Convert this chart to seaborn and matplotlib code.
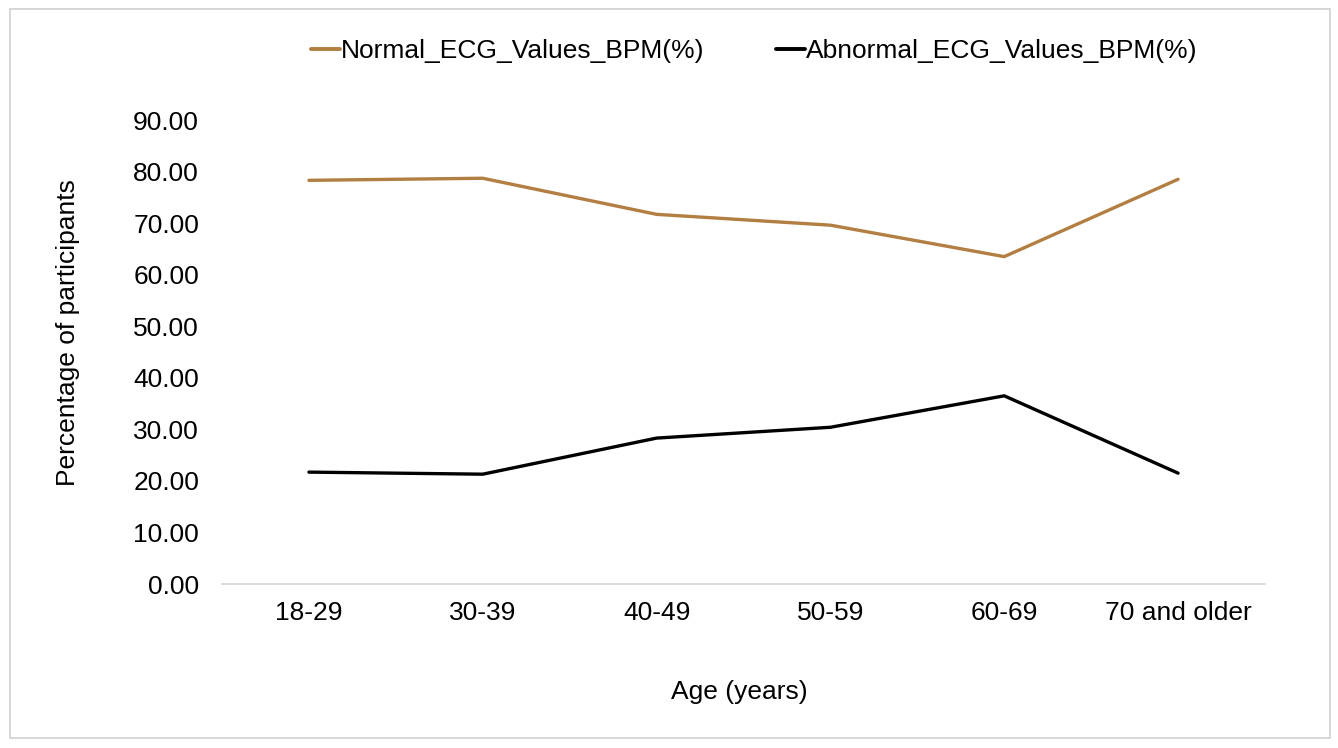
import matplotlib
matplotlib.use("Agg")
import matplotlib.pyplot as plt
import seaborn as sns
import pandas as pd
from matplotlib.ticker import FormatStrFormatter
from matplotlib.patches import Rectangle
from matplotlib.lines import Line2D

age_groups = ["18-29", "30-39", "40-49", "50-59", "60-69", "70 and older"]
normal_pct = [78.3, 78.7, 71.7, 69.6, 63.5, 78.5]
abnormal_pct = [21.7, 21.3, 28.3, 30.4, 36.5, 21.5]
series_names = ["Normal_ECG_Values_BPM(%)", "Abnormal_ECG_Values_BPM(%)"]
y_ticks = [0, 10, 20, 30, 40, 50, 60, 70, 80, 90]

df = pd.DataFrame({
    "Age": age_groups * 2,
    "Series": [series_names[0]] * len(age_groups) + [series_names[1]] * len(age_groups),
    "Value": normal_pct + abnormal_pct,
})
df["x"] = list(range(len(age_groups))) * 2

sns.set_theme(style="white")
plt.rcParams["font.family"] = ["Liberation Sans", "DejaVu Sans"]
plt.rcParams["text.color"] = "#000000"

FS = 19

fig = plt.figure(figsize=(13.38, 7.48), dpi=100)
ax = fig.add_axes([222 / 1338, 1 - 584 / 748, (1265 - 222) / 1338, (584 - 120) / 748])

palette = {series_names[0]: "#B27E41", series_names[1]: "#000000"}
sns.lineplot(data=df, x="x", y="Value", hue="Series", palette=palette, ax=ax,
             linewidth=2.4, legend=False, sort=False)

ax.set_xlim(-0.5, len(age_groups) - 0.5)
ax.set_ylim(0, 90)
ax.set_yticks(y_ticks)
ax.yaxis.set_major_formatter(FormatStrFormatter("%.2f"))
ax.set_xticks(range(len(age_groups)))
ax.set_xticklabels(age_groups)
ax.tick_params(axis="both", labelsize=FS, length=0, colors="#000000")
ax.tick_params(axis="y", pad=16.5)
ax.tick_params(axis="x", pad=12)
for s in ["top", "right", "left"]:
    ax.spines[s].set_visible(False)
ax.spines["bottom"].set_color("#D9D9D9")
ax.spines["bottom"].set_linewidth(1.3)
ax.grid(False)

ax.set_xlabel("")
ax.set_ylabel("")
fig.text(68 / 1338, 1 - 333 / 748, "Percentage of participants", rotation=90,
         ha="center", va="center", fontsize=FS, color="#000000")
fig.text(739 / 1338, 1 - 692 / 748, "Age (years)", ha="center", va="center",
         fontsize=FS, color="#000000")

handles = [Line2D([0], [0], color=palette[n], lw=2.8) for n in series_names]
fig.legend(handles, series_names, loc="center", bbox_to_anchor=(754 / 1338, 1 - 51 / 748),
           ncol=2, frameon=False, fontsize=FS, handlelength=1.1, handletextpad=0.05,
           columnspacing=2.7, borderpad=0, borderaxespad=0)

fig.patches.append(Rectangle((10 / 1338, 10 / 748), 1320 / 1338, 729 / 748,
                             transform=fig.transFigure, fill=False,
                             edgecolor="#D0D0D0", linewidth=1.2))

fig.savefig("out.png", dpi=100, facecolor="white")
